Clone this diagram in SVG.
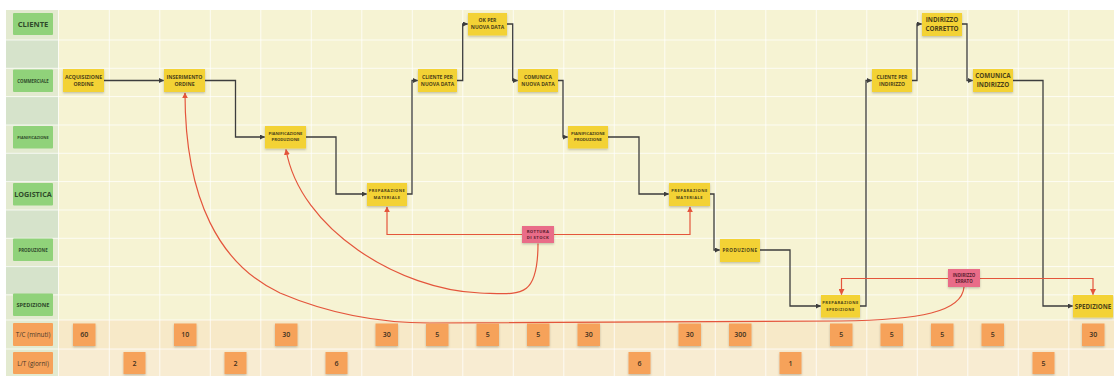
<svg xmlns="http://www.w3.org/2000/svg" width="1114" height="376" viewBox="0 0 1114 376">
  <defs>
    <style>
      .grid line { stroke: #ffffff; stroke-width: 1; opacity: 0.75; }
      .lane rect { fill: #90d27a; }
      .lane text { font-family: "Open Sans", "Liberation Sans", sans-serif; font-weight: 700; fill: #2f4a2a; text-anchor: middle; dominant-baseline: central; }
      .metric rect { fill: #f6a25a; }
      .metric text { font-family: "Open Sans", "Liberation Sans", sans-serif; fill: #4a3a2a; text-anchor: middle; dominant-baseline: central; font-size: 6.4px; }
      .note rect { fill: #f3d234; filter: url(#shadow); }
      .warn rect { fill: #e96c88; filter: url(#shadow); }
      .node text { font-family: "Open Sans", "Liberation Sans", sans-serif; font-weight: 700; fill: #4d4218; text-anchor: middle; dominant-baseline: central; }
      .warn text { fill: #5a2030; }
      .num rect { fill: #f6a25a; filter: url(#shadow); }
      .num text { font-family: "Open Sans", "Liberation Sans", sans-serif; font-weight: 600; fill: #3e3020; text-anchor: middle; dominant-baseline: central; font-size: 7px; }
      .flow path { fill: none; stroke: #3d3d3d; stroke-width: 1.3; marker-end: url(#arrowDark); }
      .issue path { fill: none; stroke: #e4553c; stroke-width: 1.2; marker-end: url(#arrowRed); }
    </style>
    <filter id="shadow" x="-20%" y="-20%" width="140%" height="160%">
      <feDropShadow dx="0" dy="1.2" stdDeviation="0.9" flood-color="#000" flood-opacity="0.22"/>
    </filter>
    <marker id="arrowDark" viewBox="0 0 10 10" refX="9" refY="5" markerWidth="5" markerHeight="5" orient="auto" markerUnits="userSpaceOnUse">
      <path d="M0,0 L10,5 L0,10 z" fill="#3d3d3d"/>
    </marker>
    <marker id="arrowRed" viewBox="0 0 10 10" refX="9" refY="5" markerWidth="6" markerHeight="6" orient="auto" markerUnits="userSpaceOnUse">
      <path d="M0,0 L10,5 L0,10 z" fill="#e4553c"/>
    </marker>
  </defs>

  <!-- board -->
  <rect x="0" y="0" width="1114" height="376" fill="#ffffff"/>
  <rect x="6" y="10" width="1108" height="366" fill="#f6f3d3"/>
  <rect x="58" y="320" width="1056" height="29" fill="#f7e9c8"/>
  <rect x="58" y="349" width="1056" height="27" fill="#f8ecd2"/>
  <rect x="6" y="10" width="52" height="366" fill="#e3ead0"/>
  <g fill="#d6e3cb">
    <rect x="6" y="40" width="52" height="28"/>
    <rect x="6" y="97" width="52" height="28"/>
    <rect x="6" y="153" width="52" height="29"/>
    <rect x="6" y="210" width="52" height="28"/>
    <rect x="6" y="266" width="52" height="28"/>
  </g>

  <g class="grid">
    <line x1="58.5" y1="10" x2="58.5" y2="376"/>
    <line x1="109.3" y1="10" x2="109.3" y2="376"/>
    <line x1="159.8" y1="10" x2="159.8" y2="376"/>
    <line x1="210.3" y1="10" x2="210.3" y2="376"/>
    <line x1="260.8" y1="10" x2="260.8" y2="376"/>
    <line x1="311.3" y1="10" x2="311.3" y2="376"/>
    <line x1="361.8" y1="10" x2="361.8" y2="376"/>
    <line x1="412.3" y1="10" x2="412.3" y2="376"/>
    <line x1="462.8" y1="10" x2="462.8" y2="376"/>
    <line x1="513.3" y1="10" x2="513.3" y2="376"/>
    <line x1="563.8" y1="10" x2="563.8" y2="376"/>
    <line x1="614.3" y1="10" x2="614.3" y2="376"/>
    <line x1="664.8" y1="10" x2="664.8" y2="376"/>
    <line x1="715.3" y1="10" x2="715.3" y2="376"/>
    <line x1="765.8" y1="10" x2="765.8" y2="376"/>
    <line x1="816.3" y1="10" x2="816.3" y2="376"/>
    <line x1="866.8" y1="10" x2="866.8" y2="376"/>
    <line x1="917.3" y1="10" x2="917.3" y2="376"/>
    <line x1="967.8" y1="10" x2="967.8" y2="376"/>
    <line x1="1018.3" y1="10" x2="1018.3" y2="376"/>
    <line x1="1068.8" y1="10" x2="1068.8" y2="376"/>
    <line x1="6" y1="40" x2="1114" y2="40"/>
    <line x1="6" y1="68.3" x2="1114" y2="68.3"/>
    <line x1="6" y1="96.6" x2="1114" y2="96.6"/>
    <line x1="6" y1="125" x2="1114" y2="125"/>
    <line x1="6" y1="153.3" x2="1114" y2="153.3"/>
    <line x1="6" y1="181.6" x2="1114" y2="181.6"/>
    <line x1="6" y1="210" x2="1114" y2="210"/>
    <line x1="6" y1="238.3" x2="1114" y2="238.3"/>
    <line x1="6" y1="266.6" x2="1114" y2="266.6"/>
    <line x1="6" y1="294.9" x2="1114" y2="294.9"/>
    <line x1="6" y1="320" x2="1114" y2="320"/>
    <line x1="6" y1="349" x2="1114" y2="349"/>
  </g>

  <!-- swimlane labels -->
  <g id="lane-cliente" class="lane"><rect x="13" y="13" width="40" height="22" rx="1"/><text x="33" y="24" font-size="7.6">CLIENTE</text></g>
  <g id="lane-commerciale" class="lane"><rect x="13" y="69.5" width="40" height="22.5" rx="1"/><text x="33" y="80.8" font-size="4.3">COMMERCIALE</text></g>
  <g id="lane-pianificazione" class="lane"><rect x="13" y="126" width="40" height="22.5" rx="1"/><text x="33" y="137.3" font-size="3.9">PIANIFICAZIONE</text></g>
  <g id="lane-logistica" class="lane"><rect x="13" y="183" width="40" height="22.5" rx="1"/><text x="33" y="194.3" font-size="7.2">LOGISTICA</text></g>
  <g id="lane-produzione" class="lane"><rect x="13" y="238.5" width="40" height="22.5" rx="1"/><text x="33" y="249.8" font-size="4.4">PRODUZIONE</text></g>
  <g id="lane-spedizione" class="lane"><rect x="13" y="293.5" width="40" height="22.5" rx="1"/><text x="33" y="304.8" font-size="5.6">SPEDIZIONE</text></g>
  <g id="lane-tc" class="metric"><rect x="13" y="323" width="40" height="23" rx="1"/><text x="33" y="334.5">T/C (minuti)</text></g>
  <g id="lane-lt" class="metric"><rect x="13" y="352" width="40" height="22" rx="1"/><text x="33" y="363">L/T (giorni)</text></g>

  <!-- process flow -->
  <g id="connectors">
    <g class="flow">
      <path d="M104,80.5 H163.5"/>
      <path d="M205,80.5 H235.5 V137 H264.5"/>
      <path d="M306,137 H336 V194 H366.5"/>
      <path d="M407,194 H412 V80.5 H417.5"/>
      <path d="M457,80.5 H462.7 V24 H467.5"/>
      <path d="M507,24 H512.7 V80.5 H517.5"/>
      <path d="M558,80.5 H563 V137 H567.5"/>
      <path d="M608,137 H639 V194 H668.5"/>
      <path d="M710,194 H714 V250 H719.5"/>
      <path d="M760,250 H790 V306 H820.5"/>
      <path d="M860,306 H866 V80.5 H871.5"/>
      <path d="M912,80.5 H917 V24 H921.5"/>
      <path d="M962,24 H967 V80.5 H972.5"/>
      <path d="M1013,80.5 H1043 V306 H1072.5"/>
    </g>
    <g class="issue">
      <path d="M522,234.5 H387 V207"/>
      <path d="M554,234.5 H690 V207"/>
      <path d="M538,243.5 C538,300 520,294 480,293 C400,290 300,230 286,149.5"/>
      <path d="M948,278.5 H841.5 V294.5"/>
      <path d="M980,278.5 H1093 V294.5"/>
      <path d="M964,287 C962,312 920,320 840,321 C700,321 560,323 430,323 C370,323 320,310 280,293 C220,265 185,200 185,93"/>
    </g>
  </g>

  <!-- activities -->
  <g id="acquisizione-ordine" class="node note"><rect x="63" y="69" width="41" height="23"/><text x="83.5" y="76.6" font-size="5.2">ACQUISIZIONE</text><text x="83.5" y="84" font-size="5.2">ORDINE</text></g>
  <g id="inserimento-ordine" class="node note"><rect x="164" y="69" width="41" height="23"/><text x="184.5" y="76.6" font-size="5.2">INSERIMENTO</text><text x="184.5" y="84" font-size="5.2">ORDINE</text></g>
  <g id="pianificazione-1" class="node note"><rect x="265" y="126" width="41" height="22.5"/><text x="285.5" y="133.6" font-size="4.2">PIANIFICAZIONE</text><text x="285.5" y="139.6" font-size="4.2">PRODUZIONE</text></g>
  <g id="preparazione-materiale-1" class="node note"><rect x="367" y="183" width="40" height="23"/><text x="387" y="190" font-size="4.1" letter-spacing="0.45">PREPARAZIONE</text><text x="387" y="197" font-size="4.1" letter-spacing="0.45">MATERIALE</text></g>
  <g id="cliente-nuova-data" class="node note"><rect x="418" y="69" width="39" height="23"/><text x="437.5" y="76.6" font-size="5">CLIENTE PER</text><text x="437.5" y="83.6" font-size="5">NUOVA DATA</text></g>
  <g id="ok-nuova-data" class="node note"><rect x="468" y="13" width="39" height="22.5"/><text x="487.5" y="19.8" font-size="5">OK PER</text><text x="487.5" y="26.6" font-size="5">NUOVA DATA</text></g>
  <g id="comunica-nuova-data" class="node note"><rect x="518" y="69" width="40" height="23"/><text x="538" y="76.6" font-size="5">COMUNICA</text><text x="538" y="83.6" font-size="5">NUOVA DATA</text></g>
  <g id="pianificazione-2" class="node note"><rect x="568" y="126" width="40" height="22.5"/><text x="588" y="133.6" font-size="4.2">PIANIFICAZIONE</text><text x="588" y="139.6" font-size="4.2">PRODUZIONE</text></g>
  <g id="preparazione-materiale-2" class="node note"><rect x="669" y="183" width="41" height="23"/><text x="689.5" y="190" font-size="4.1" letter-spacing="0.45">PREPARAZIONE</text><text x="689.5" y="197" font-size="4.1" letter-spacing="0.45">MATERIALE</text></g>
  <g id="produzione" class="node note"><rect x="720" y="239" width="40" height="23"/><text x="740" y="250" font-size="4.6" letter-spacing="0.45">PRODUZIONE</text></g>
  <g id="preparazione-spedizione" class="node note"><rect x="821" y="295" width="39" height="22.5"/><text x="840.5" y="302.3" font-size="4.1" letter-spacing="0.45">PREPARAZIONE</text><text x="840.5" y="309" font-size="4.1" letter-spacing="0.45">SPEDIZIONE</text></g>
  <g id="cliente-indirizzo" class="node note"><rect x="872" y="69" width="40" height="23"/><text x="892" y="76.6" font-size="5">CLIENTE PER</text><text x="892" y="83.6" font-size="5">INDIRIZZO</text></g>
  <g id="indirizzo-corretto" class="node note"><rect x="922" y="13" width="40" height="23"/><text x="942" y="19.4" font-size="6.3">INDIRIZZO</text><text x="942" y="28.4" font-size="6.3">CORRETTO</text></g>
  <g id="comunica-indirizzo" class="node note"><rect x="973" y="69" width="40" height="23"/><text x="993" y="75.6" font-size="6.3">COMUNICA</text><text x="993" y="84.6" font-size="6.3">INDIRIZZO</text></g>
  <g id="spedizione" class="node note"><rect x="1073" y="295" width="40" height="22.5"/><text x="1093" y="306" font-size="6.2">SPEDIZIONE</text></g>

  <!-- problems -->
  <g id="rottura-stock" class="node warn"><rect x="522" y="226" width="32" height="17"/><text x="538" y="231.4" font-size="4.2" letter-spacing="0.4">ROTTURA</text><text x="538" y="237.6" font-size="4.2" letter-spacing="0.4">DI STOCK</text></g>
  <g id="indirizzo-errato" class="node warn"><rect x="948" y="269" width="32" height="18"/><text x="964" y="274.6" font-size="4.4">INDIRIZZO</text><text x="964" y="281.4" font-size="4.4">ERRATO</text></g>

  <!-- cycle times (minutes) -->
  <g id="cycle-times" class="num">
    <g><rect x="73" y="323.5" width="22.5" height="22.5"/><text x="84.3" y="334.8">60</text></g>
    <g><rect x="174" y="323.5" width="22.5" height="22.5"/><text x="185.3" y="334.8">10</text></g>
    <g><rect x="275" y="323.5" width="22.5" height="22.5"/><text x="286.3" y="334.8">30</text></g>
    <g><rect x="375.5" y="323.5" width="22.5" height="22.5"/><text x="386.8" y="334.8">30</text></g>
    <g><rect x="426" y="323.5" width="22.5" height="22.5"/><text x="437.3" y="334.8">5</text></g>
    <g><rect x="476.5" y="323.5" width="22.5" height="22.5"/><text x="487.8" y="334.8">5</text></g>
    <g><rect x="527" y="323.5" width="22.5" height="22.5"/><text x="538.3" y="334.8">5</text></g>
    <g><rect x="577.5" y="323.5" width="22.5" height="22.5"/><text x="588.8" y="334.8">30</text></g>
    <g><rect x="678.5" y="323.5" width="22.5" height="22.5"/><text x="689.8" y="334.8">30</text></g>
    <g><rect x="729" y="323.5" width="22.5" height="22.5"/><text x="740.3" y="334.8">300</text></g>
    <g><rect x="830" y="323.5" width="22.5" height="22.5"/><text x="841.3" y="334.8">5</text></g>
    <g><rect x="880.5" y="323.5" width="22.5" height="22.5"/><text x="891.8" y="334.8">5</text></g>
    <g><rect x="931" y="323.5" width="22.5" height="22.5"/><text x="942.3" y="334.8">5</text></g>
    <g><rect x="981.5" y="323.5" width="22.5" height="22.5"/><text x="992.8" y="334.8">5</text></g>
    <g><rect x="1082" y="323.5" width="22.5" height="22.5"/><text x="1093.3" y="334.8">30</text></g>
  </g>

  <!-- lead times (days) -->
  <g id="lead-times" class="num">
    <g><rect x="123.5" y="352" width="22" height="22"/><text x="134.5" y="363">2</text></g>
    <g><rect x="224.5" y="352" width="22" height="22"/><text x="235.5" y="363">2</text></g>
    <g><rect x="325.5" y="352" width="22" height="22"/><text x="336.5" y="363">6</text></g>
    <g><rect x="628.5" y="352" width="22" height="22"/><text x="639.5" y="363">6</text></g>
    <g><rect x="779.5" y="352" width="22" height="22"/><text x="790.5" y="363">1</text></g>
    <g><rect x="1032.5" y="352" width="22" height="22"/><text x="1043.5" y="363">5</text></g>
  </g>
</svg>
